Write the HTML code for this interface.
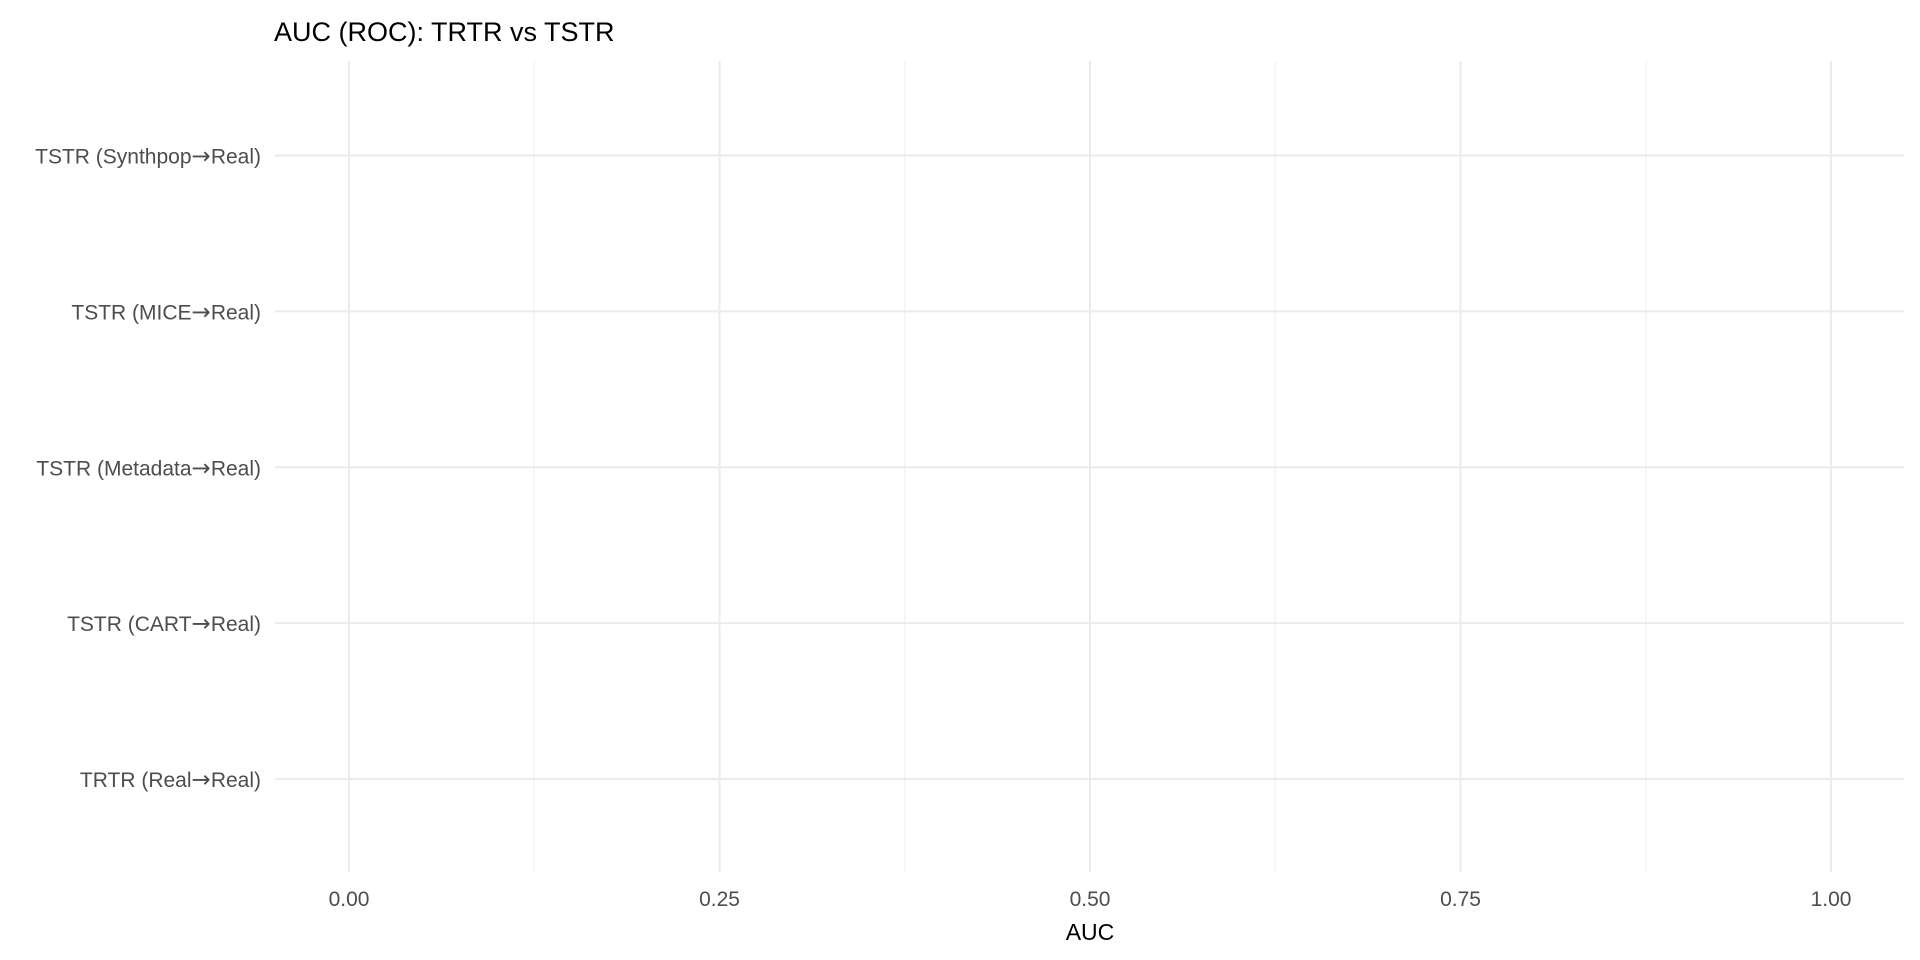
<!DOCTYPE html>
<html><head><meta charset="utf-8">
<style>
html,body{margin:0;padding:0;background:#fff;}
svg{display:block;font-family:"Liberation Sans",Arial,sans-serif;}
</style></head>
<body>
<svg id="chart" width="1920" height="960" viewBox="0 0 1920 960">
<rect width="1920" height="960" fill="#fff"/>
<text x="274" y="41" font-size="27" fill="#000">AUC (ROC): TRTR vs TSTR</text>
<g id="grid"></g>
<g id="labels"></g>
<text x="1090" y="940" font-size="23" fill="#000" text-anchor="middle">AUC</text>
</svg>
<script>
const categories = ["TRTR (Real→Real)","TSTR (CART→Real)","TSTR (Metadata→Real)","TSTR (MICE→Real)","TSTR (Synthpop→Real)"];
const aucValues = [];
const xTicks = [0, 0.25, 0.5, 0.75, 1.0];
const xTickLabels = ["0.00","0.25","0.50","0.75","1.00"];

const NS = "http://www.w3.org/2000/svg";
const panel = {left:275, right:1904, top:61, bottom:872};
const x = v => 349 + v * (1831 - 349);
const y = i => 779 - i * (779 - 155.5) / (categories.length - 1);
const grid = document.getElementById('grid');
const labels = document.getElementById('labels');
function mk(tag, attrs){const e=document.createElementNS(NS,tag);for(const k in attrs)e.setAttribute(k,attrs[k]);return e;}

for (let i = 0; i < xTicks.length - 1; i++) {
  const m = (xTicks[i] + xTicks[i+1]) / 2;
  const l = mk('line',{x1:x(m),x2:x(m),y1:panel.top,y2:panel.bottom,stroke:'#f2f2f2','stroke-width':1.2});
  
  
  grid.appendChild(l);
}
xTicks.forEach((t, i) => {
  const l = mk('line',{x1:x(t),x2:x(t),y1:panel.top,y2:panel.bottom,stroke:'#ebebeb','stroke-width':2});
  
  
  grid.appendChild(l);
  const tx = mk('text',{x:x(t),y:906,'font-size':21,fill:'#4d4d4d','text-anchor':'middle'});
  tx.textContent = xTickLabels[i];
  
  
  labels.appendChild(tx);
});
categories.forEach((c, i) => {
  const l = mk('line',{x1:panel.left,x2:panel.right,y1:y(i),y2:y(i),stroke:'#ebebeb','stroke-width':2});
  
  
  grid.appendChild(l);
  const tx = mk('text',{x:261,y:y(i)+8,'font-size':21,fill:'#4d4d4d','text-anchor':'end'});
  const parts = c.split('→');
  tx.appendChild(document.createTextNode(parts[0]));
  const ar = mk('tspan',{'font-family':'"DejaVu Sans",sans-serif','font-size':23});
  ar.textContent = '→';
  tx.appendChild(ar);
  tx.appendChild(document.createTextNode(parts[1]));
  
  
  labels.appendChild(tx);
});
aucValues.forEach((v, i) => {
  const p = mk('circle',{cx:x(v),cy:y(i),r:6,fill:'#333'});
  
  
  labels.appendChild(p);
});
</script>
</body></html>
